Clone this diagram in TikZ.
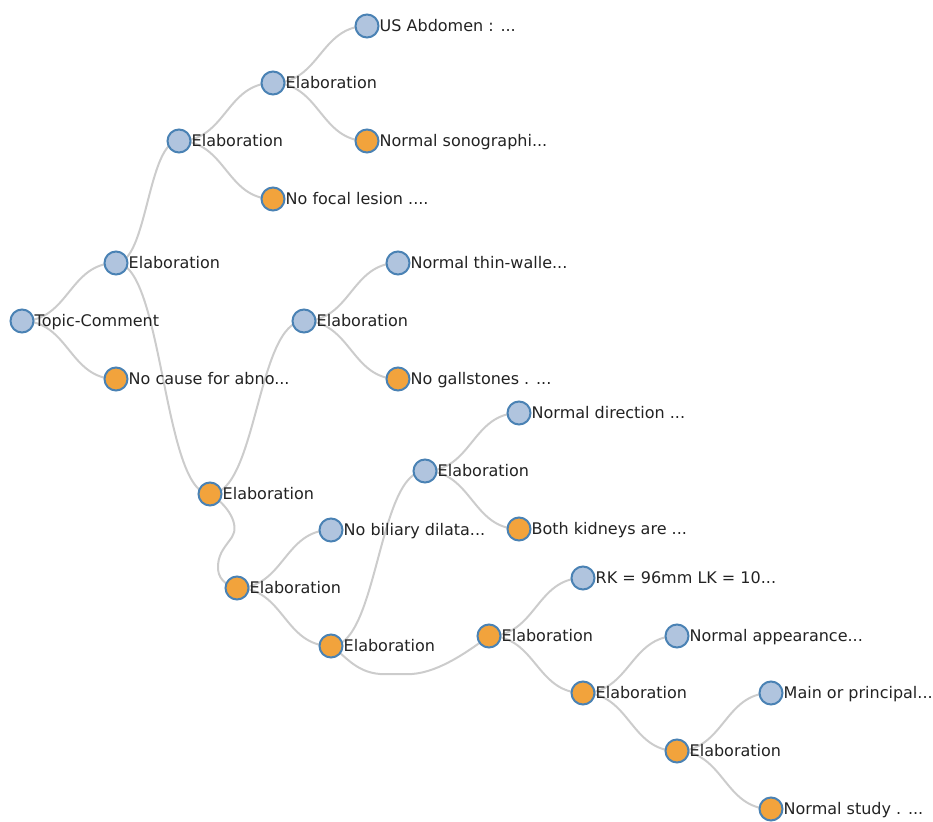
\documentclass[tikz,border=0pt]{standalone}
\usepackage{fontspec}
\setmainfont{DejaVu Sans}
\usetikzlibrary{calc,backgrounds}
\definecolor{bluefill}{HTML}{B0C4DE}
\definecolor{orfill}{HTML}{F2A33C}
\definecolor{stk}{HTML}{4A82B4}
\definecolor{lnk}{HTML}{CCCCCC}
\definecolor{txt}{HTML}{222222}
\tikzset{
  tnode/.style={circle,draw=stk,line width=2pt,inner sep=0pt,minimum size=23pt},
  bl/.style={tnode,fill=bluefill,label={[lab]east:#1}},
  og/.style={tnode,fill=orfill,label={[lab]east:#1}},
  lab/.style={anchor=base west,inner sep=0pt,yshift=-5.6pt,text=txt,font=\fontsize{16}{19}\selectfont},
  link/.style={draw=lnk,line width=2pt}
}
\newcommand\lk[2]{\draw[link] let \p1=(#1.center),\p2=(#2.center) in (\p1) .. controls ({0.5*(\x1+\x2)},\y1) and ({0.5*(\x1+\x2)},\y2) .. (\p2);}
\begin{document}
\begin{tikzpicture}[x=1pt,y=-1pt]
\useasboundingbox (0,0) rectangle (933,821);
\node[bl=Topic-Comment] (tc) at (22,321) {};
\node[bl=Elaboration] (a) at (116,263) {};
\node[og=No cause for abno...] (nc) at (116,379) {};
\node[bl=Elaboration] (b) at (179,141) {};
\node[bl=Elaboration] (c) at (273,83) {};
\node[bl={US Abdomen : ...}] (us) at (367,26) {};
\node[og=Normal sonographi...] (ns) at (367,141) {};
\node[og=No focal lesion ....] (nf) at (273,199) {};
\node[og=Elaboration] (d) at (210,494) {};
\node[bl=Elaboration] (e) at (304,321) {};
\node[bl=Normal thin-walle...] (nt) at (398,263) {};
\node[og=No gallstones . ...] (ng) at (398,379) {};
\node[og=Elaboration] (f) at (237,588) {};
\node[bl=No biliary dilata...] (nb) at (331,530) {};
\node[og=Elaboration] (g) at (331,646) {};
\node[bl=Elaboration] (h) at (425,471) {};
\node[bl=Normal direction ...] (nd) at (519,413) {};
\node[og=Both kidneys are ...] (bk) at (519,529) {};
\node[og=Elaboration] (i) at (489,636) {};
\node[bl={RK = 96mm LK = 10...}] (rk) at (583,578) {};
\node[og=Elaboration] (j) at (583,693) {};
\node[bl=Normal appearance...] (na) at (677,636) {};
\node[og=Elaboration] (k) at (677,751) {};
\node[bl=Main or principal...] (mp) at (771,693) {};
\node[og=Normal study . ...] (nsd) at (771,809) {};
\begin{scope}[on background layer]
\lk{tc}{a}\lk{tc}{nc}\lk{a}{b}\lk{a}{d}\lk{b}{c}\lk{b}{nf}\lk{c}{us}\lk{c}{ns}
\lk{d}{e}\lk{e}{nt}\lk{e}{ng}\lk{f}{nb}\lk{f}{g}\lk{g}{h}\lk{h}{nd}\lk{h}{bk}
\lk{i}{rk}\lk{i}{j}\lk{j}{na}\lk{j}{k}\lk{k}{mp}\lk{k}{nsd}
\draw[link] (d.center) .. controls (228,505) and (240,525) .. (232,537)
  .. controls (226,546) and (219,552) .. (218,565)
  .. controls (217,578) and (225,585) .. (f.center);
\draw[link] (g.center) .. controls (345,655) and (355,672) .. (380,674) -- (412,674)
  .. controls (440,672) and (470,650) .. (i.center);
\end{scope}
\end{tikzpicture}
\end{document}
